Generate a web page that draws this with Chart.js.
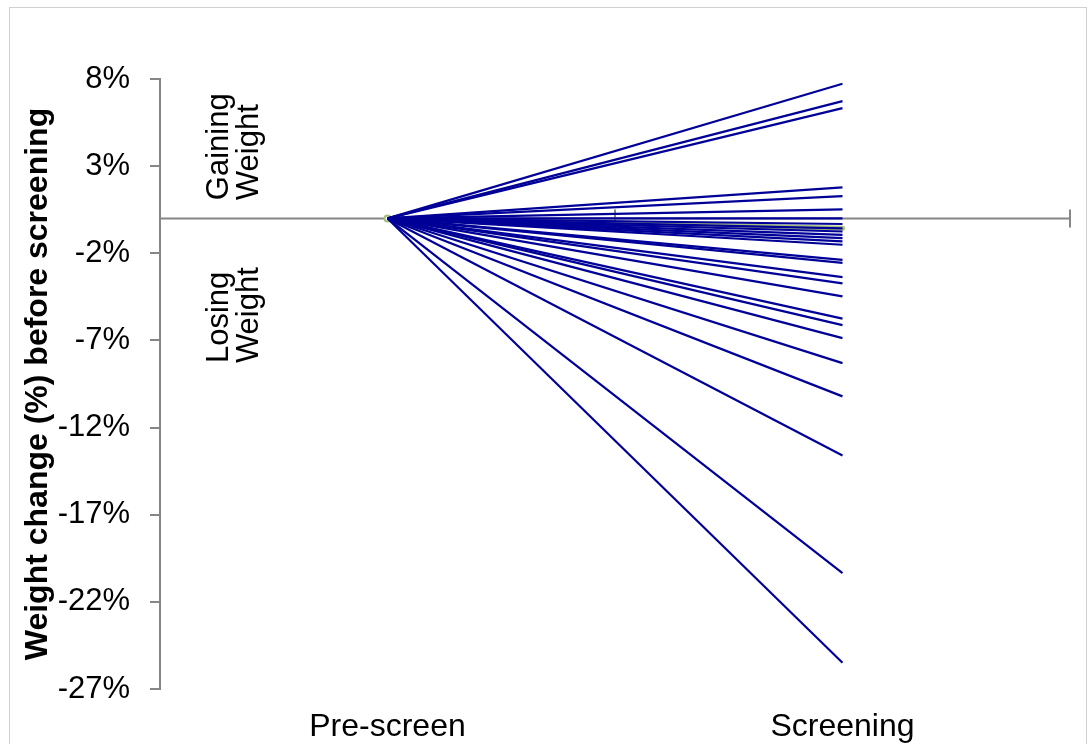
<!DOCTYPE html>
<html>
<head>
<meta charset="utf-8">
<script src="https://cdn.jsdelivr.net/npm/chart.js@4.4.1/dist/chart.umd.min.js"></script>
<style>
  html, body { margin: 0; padding: 0; background: #ffffff; }
  #wrap { position: relative; width: 1089px; height: 744px; }
  canvas { display: block; }
</style>
</head>
<body>
<div id="wrap"><canvas id="chart" width="1089" height="744"></canvas></div>
<script>
// Visit labels on the horizontal axis
const categories = ['Pre-screen', 'Screening'];

// Weight change (%) at screening for each participant (all start at 0 at pre-screen)
const screeningChange = [
  7.73, 6.73, 6.33, 1.78, 1.28, 0.52, 0.0,
  -0.32, -0.57, -0.75, -0.94, -1.13, -1.32, -1.51,
  -2.38, -2.55, -3.37, -3.73, -4.47, -5.75, -6.12,
  -6.87, -8.30, -10.21, -13.60, -20.35, -25.49
];
const preScreenChange = 0;

// Highlighted summary line
const summaryLine = [0, -0.57];

// Vertical axis tick values (%)
const yTicks = [-27, -22, -17, -12, -7, -2, 3, 8];

// Zone labels
const gainLabel = ['Gaining', 'Weight'];
const loseLabel = ['Losing', 'Weight'];

const FONT = "'Liberation Sans', Arial, Helvetica, sans-serif";
const AXIS_GREY = '#868686';
const LINE_BLUE = '#000098';

const datasets = screeningChange.map((v, i) => ({
  label: 'P' + (i + 1),
  data: [preScreenChange, v],
  borderColor: LINE_BLUE,
  borderWidth: 2.2,
  pointRadius: 0,
  tension: 0,
  fill: false,
  order: 1
}));
datasets.push({
  label: 'summary',
  data: summaryLine,
  borderColor: '#a6bf78',
  backgroundColor: '#ffffff',
  borderWidth: 5,
  pointRadius: [3, 0],
  pointBorderWidth: 2,
  pointBorderColor: '#a6bf78',
  borderCapStyle: 'round',
  tension: 0,
  fill: false,
  order: 2
});

// Zero axis with cross ticks, zone captions and the outer frame
const decorations = {
  id: 'decorations',
  beforeDatasetsDraw(chart) {
    const { ctx, chartArea, scales } = chart;
    const y0 = scales.y.getPixelForValue(0);
    const p0 = scales.x.getPixelForValue(0);
    const p1 = scales.x.getPixelForValue(1);
    ctx.save();
    ctx.strokeStyle = AXIS_GREY;
    ctx.lineWidth = 2;
    ctx.beginPath();
    ctx.moveTo(chartArea.left, y0);
    ctx.lineTo(chartArea.right, y0);
    const bounds = [(p0 + p1) / 2, p1 + (p1 - p0) / 2];
    bounds.forEach(x => {
      ctx.moveTo(x, y0 - 9);
      ctx.lineTo(x, y0 + 9);
    });
    ctx.stroke();
    ctx.restore();
  },
  afterDraw(chart) {
    const { ctx, scales } = chart;
    ctx.save();
    ctx.fillStyle = '#000000';
    ctx.font = '31px ' + FONT;
    ctx.textAlign = 'left';
    ctx.textBaseline = 'middle';
    const drawRotated = (lines, baseY, x1) => {
      lines.forEach((t, i) => {
        ctx.save();
        ctx.translate(x1 + i * 30, baseY);
        ctx.rotate(-Math.PI / 2);
        ctx.fillText(t, 0, 0);
        ctx.restore();
      });
    };
    drawRotated(gainLabel, scales.y.getPixelForValue(1.05), 219);
    drawRotated(loseLabel, scales.y.getPixelForValue(-8.3), 219);
    ctx.strokeStyle = '#d0d0d0';
    ctx.lineWidth = 1;
    ctx.strokeRect(9.5, 7.5, 1077, 800);
    ctx.restore();
  }
};

new Chart(document.getElementById('chart'), {
  type: 'line',
  data: { labels: categories, datasets },
  options: {
    responsive: false,
    animation: false,
    devicePixelRatio: 1,
    layout: { padding: { top: 79, right: 19, left: 0, bottom: 0 } },
    plugins: { legend: { display: false }, tooltip: { enabled: false } },
    scales: {
      x: {
        type: 'category',
        offset: true,
        grid: { display: false, drawTicks: false },
        border: { display: false },
        ticks: {
          color: '#000000',
          font: { family: FONT, size: 32 },
          padding: 19,
          maxRotation: 0
        },
        afterFit(scale) { scale.height = 55; }
      },
      y: {
        min: -27,
        max: 8,
        afterBuildTicks(scale) { scale.ticks = yTicks.map(v => ({ value: v })); },
        grid: {
          drawOnChartArea: false,
          drawTicks: true,
          tickLength: 10,
          color: AXIS_GREY,
          lineWidth: 2
        },
        border: { display: true, color: AXIS_GREY, width: 2 },
        ticks: {
          color: '#000000',
          font: { family: FONT, size: 31 },
          padding: 20,
          callback: v => v + '%'
        },
        title: {
          display: true,
          text: 'Weight change (%) before screening',
          color: '#000000',
          font: { family: FONT, size: 32, weight: 'bold' },
          padding: { top: 19, bottom: 0 }
        },
        afterFit(scale) { scale.width = 160; }
      }
    }
  },
  plugins: [decorations]
});
</script>
</body>
</html>
